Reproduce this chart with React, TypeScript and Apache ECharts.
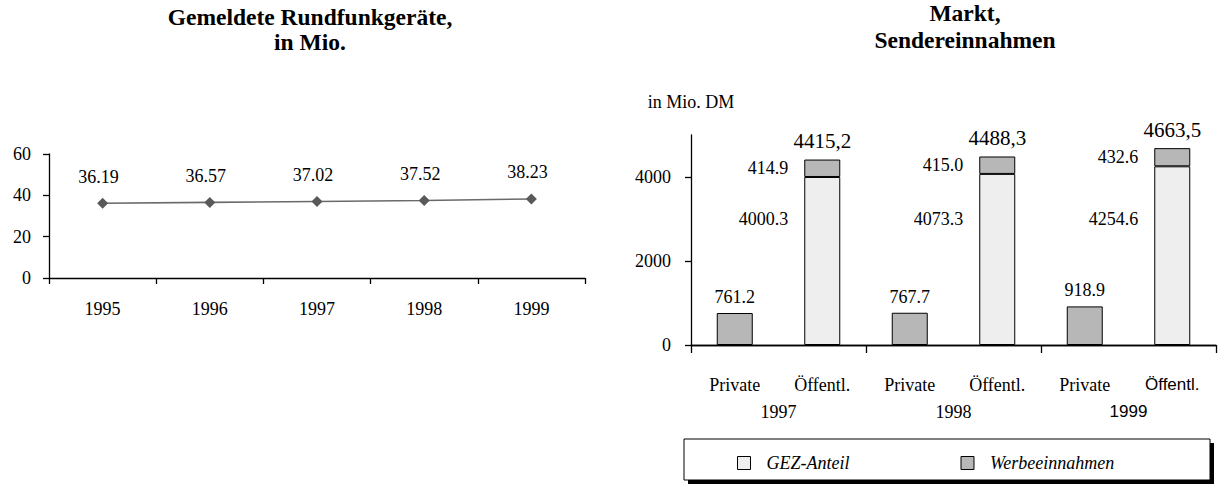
import React, { useEffect, useRef } from "react";
import * as echarts from "echarts";

// ---- Left chart data ----
const lineYears = ["1995", "1996", "1997", "1998", "1999"];
const lineValues = [36.19, 36.57, 37.02, 37.52, 38.23];

// ---- Right chart data ----
const barCategories = ["Private", "Öffentl.", "Private", "Öffentl.", "Private", "Öffentl."];
const barYears = ["1997", "1998", "1999"];
const privateWerbe = [761.2, 767.7, 918.9];
const gezAnteil = [4000.3, 4073.3, 4254.6];
const oeffWerbe = [414.9, 415.0, 432.6];
const oeffTotals = ["4415,2", "4488,3", "4663,5"];
const barTickValues = [0, 2000, 4000];
const gezLabelLevel = 3000;

const SERIF = "'Liberation Serif', 'Times New Roman', serif";
const SANS = "'Liberation Sans', Arial, sans-serif";

export default function App() {
  const ref = useRef<HTMLDivElement>(null);

  useEffect(() => {
    if (!ref.current) return;
    const chart = echarts.init(ref.current, undefined, { renderer: "svg" });

    const gezData = barCategories.map((_, i) => {
      if (i % 2 === 0) return "-";
      const v = gezAnteil[(i - 1) / 2];
      const pct = ((v - gezLabelLevel) / v) * 100;
      return {
        value: v,
        label: {
          show: true,
          position: [-16, pct.toFixed(1) + "%"],
          align: "right",
          verticalAlign: "middle",
        },
      };
    });

    const werbeData = barCategories.map((_, i) => {
      if (i % 2 === 0) {
        return {
          value: privateWerbe[i / 2],
          label: { show: true, position: "top", distance: 7 },
        };
      }
      return {
        value: oeffWerbe[(i - 1) / 2],
        label: {
          show: true,
          position: [-16, "50%"],
          align: "right",
          verticalAlign: "middle",
        },
      };
    });

    const totalData = barCategories.map((_, i) => {
      if (i % 2 === 0) return "-";
      return {
        value: 0,
        label: {
          show: true,
          position: "top",
          distance: 8,
          formatter: oeffTotals[(i - 1) / 2],
        },
      };
    });

    const axisLineStyle = { color: "#000", width: 1.3 };
    const labelBase = { color: "#000", fontFamily: SERIF, fontSize: 18 };

    chart.setOption({
      animation: false,
      backgroundColor: "#fff",
      title: [
        {
          text: "Gemeldete Rundfunkgeräte,\nin Mio.",
          left: 305,
          top: -1,
          textAlign: "center",
          textStyle: { fontFamily: SERIF, fontWeight: "bold", fontSize: 23.5, lineHeight: 25, color: "#000" },
        },
        {
          text: "Markt,\nSendereinnahmen",
          left: 960,
          top: -6,
          textAlign: "center",
          textStyle: { fontFamily: SERIF, fontWeight: "bold", fontSize: 23.5, lineHeight: 27, color: "#000" },
        },
      ],
      legend: {
        data: ["GEZ-Anteil", "Werbeeinnahmen"],
        left: 737,
        top: 454,
        padding: 0,
        itemWidth: 13,
        itemHeight: 13,
        itemGap: 111,
        icon: "rect",
        itemStyle: { borderColor: "#000", borderWidth: 1 },
        textStyle: {
          fontFamily: SERIF,
          fontStyle: "italic",
          fontSize: 18,
          color: "#000",
          padding: [0, 0, 0, 11],
        },
        selectedMode: false,
        z: 10,
      },
      graphic: [
        { type: "rect", z: 1, shape: { x: 688, y: 443, width: 526, height: 41 }, style: { fill: "#000" } },
        {
          type: "rect",
          z: 2,
          shape: { x: 684, y: 439, width: 526, height: 41 },
          style: { fill: "#fff", stroke: "#000", lineWidth: 1 },
        },
      ],
      grid: [
        { left: 49, top: 154, width: 536, height: 124 },
        { left: 691, top: 135, width: 525, height: 210 },
      ],
      xAxis: [
        {
          gridIndex: 0,
          type: "category",
          data: lineYears,
          axisLine: { lineStyle: axisLineStyle },
          axisTick: { show: true, length: 6, lineStyle: axisLineStyle },
          axisLabel: { ...labelBase, margin: 22 },
        },
        {
          gridIndex: 1,
          type: "category",
          data: barCategories,
          axisLine: { lineStyle: axisLineStyle },
          axisTick: { show: false },
          axisLabel: {
            ...labelBase,
            margin: 31,
            interval: 0,
            formatter: (v: string, i: number) => (i === 5 ? `{s|${v}}` : v),
            rich: { s: { fontFamily: SANS, fontSize: 17, color: "#000" } },
          },
        },
        {
          gridIndex: 1,
          type: "category",
          position: "bottom",
          data: barYears,
          axisLine: { lineStyle: axisLineStyle },
          axisTick: { show: true, length: 8, lineStyle: axisLineStyle },
          axisLabel: {
            ...labelBase,
            margin: 58,
            formatter: (v: string, i: number) => (i === 2 ? `{s|${v}}` : v),
            rich: { s: { fontFamily: SANS, fontSize: 17, color: "#000" } },
          },
        },
      ],
      yAxis: [
        {
          gridIndex: 0,
          type: "value",
          min: 0,
          max: 60,
          interval: 20,
          splitLine: { show: false },
          axisLine: { show: true, lineStyle: axisLineStyle },
          axisTick: { show: true, length: 6, lineStyle: axisLineStyle },
          axisLabel: { ...labelBase, margin: 18 },
        },
        {
          gridIndex: 1,
          type: "value",
          min: 0,
          max: 5000,
          splitLine: { show: false },
          axisLine: { show: true, lineStyle: axisLineStyle },
          axisTick: { show: true, length: 6, lineStyle: axisLineStyle, customValues: barTickValues },
          axisLabel: {
            ...labelBase,
            margin: 20,
            customValues: barTickValues,
            formatter: (v: number) => String(v),
          },
          name: "in Mio. DM",
          nameLocation: "end",
          nameGap: 24,
          nameTextStyle: { color: "#000", fontFamily: SERIF, fontSize: 18, align: "center" },
        },
      ],
      series: [
        {
          name: "Rundfunkgeräte",
          type: "line",
          xAxisIndex: 0,
          yAxisIndex: 0,
          data: lineValues,
          symbol: "diamond",
          symbolSize: 11,
          itemStyle: { color: "#595959" },
          lineStyle: { color: "#6a6a6a", width: 1.6 },
          label: {
            show: true,
            position: "top",
            distance: 12,
            offset: [-4, 0],
            ...labelBase,
            formatter: (p: any) => p.value.toFixed(2),
          },
        },
        {
          name: "GEZ-Anteil",
          type: "bar",
          xAxisIndex: 1,
          yAxisIndex: 1,
          stack: "s",
          barWidth: 36,
          data: gezData,
          itemStyle: { color: "#eeeeee", borderColor: "#000", borderWidth: 1 },
          label: { ...labelBase },
        },
        {
          name: "Werbeeinnahmen",
          type: "bar",
          xAxisIndex: 1,
          yAxisIndex: 1,
          stack: "s",
          barWidth: 36,
          data: werbeData,
          itemStyle: { color: "#b7b7b7", borderColor: "#000", borderWidth: 1 },
          label: { ...labelBase, formatter: (p: any) => p.value.toFixed(1) },
        },
        {
          name: "Summe",
          type: "bar",
          xAxisIndex: 1,
          yAxisIndex: 1,
          stack: "s",
          barWidth: 36,
          data: totalData,
          itemStyle: { color: "transparent", borderWidth: 0 },
          label: { color: "#000", fontFamily: SERIF, fontSize: 21 },
        },
      ],
    });

    return () => chart.dispose();
  }, []);

  return (
    <div
      ref={ref}
      style={{ position: "absolute", left: 0, top: 0, width: 1218, height: 485 }}
    />
  );
}
